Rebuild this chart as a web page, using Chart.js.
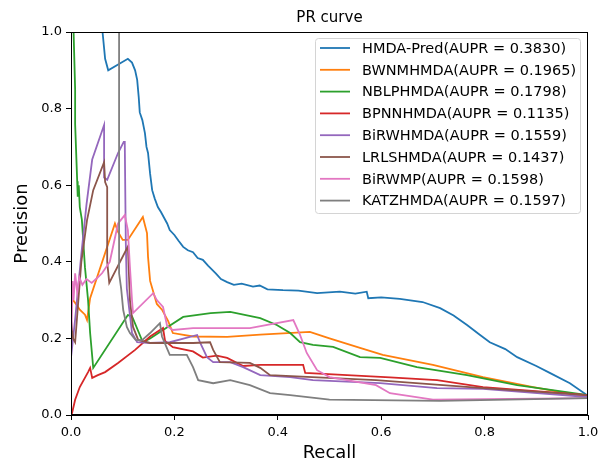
<!DOCTYPE html>
<html>
<head>
<meta charset="utf-8">
<script src="https://cdn.jsdelivr.net/npm/chart.js@4.4.0/dist/chart.umd.min.js"></script>
<style>
  html, body { margin: 0; padding: 0; background: #fff; }
  #wrap { width: 610px; height: 466px; }
</style>
</head>
<body>
<div id="wrap"><canvas id="prChart" width="610" height="466"></canvas></div>
<script>
// [recall, precision] points
const hmdaPred = [[0.061,1.0],[0.066,0.93],[0.072,0.90],[0.110,0.93],[0.118,0.92],[0.124,0.90],[0.128,0.875],[0.131,0.83],[0.133,0.79],[0.138,0.77],[0.143,0.736],[0.146,0.70],[0.149,0.684],[0.153,0.63],[0.157,0.587],[0.162,0.565],[0.168,0.543],[0.174,0.53],[0.180,0.515],[0.186,0.50],[0.191,0.483],[0.200,0.47],[0.208,0.455],[0.217,0.439],[0.226,0.43],[0.236,0.425],[0.245,0.41],[0.255,0.405],[0.265,0.39],[0.280,0.37],[0.29,0.355],[0.302,0.347],[0.315,0.34],[0.33,0.343],[0.352,0.335],[0.365,0.338],[0.38,0.328],[0.41,0.326],[0.44,0.325],[0.476,0.318],[0.52,0.322],[0.55,0.317],[0.572,0.322],[0.575,0.305],[0.60,0.307],[0.636,0.303],[0.68,0.295],[0.714,0.279],[0.74,0.26],[0.766,0.235],[0.79,0.21],[0.81,0.19],[0.84,0.172],[0.863,0.151],[0.90,0.128],[0.926,0.11],[0.965,0.083],[1.0,0.05]];
const bwnmhmda = [[0.0,0.33],[0.004,0.30],[0.012,0.285],[0.017,0.275],[0.027,0.262],[0.031,0.248],[0.037,0.305],[0.085,0.50],[0.091,0.478],[0.10,0.457],[0.110,0.457],[0.139,0.517],[0.147,0.475],[0.149,0.413],[0.153,0.35],[0.166,0.29],[0.176,0.275],[0.188,0.245],[0.197,0.214],[0.236,0.205],[0.302,0.204],[0.366,0.21],[0.41,0.213],[0.462,0.217],[0.50,0.20],[0.559,0.175],[0.603,0.157],[0.70,0.131],[0.797,0.099],[0.894,0.073],[1.0,0.047]];
const nblphmda = [[0.005,1.0],[0.008,0.85],[0.008,0.76],[0.012,0.61],[0.013,0.57],[0.015,0.6],[0.017,0.543],[0.021,0.51],[0.027,0.386],[0.033,0.30],[0.037,0.214],[0.043,0.123],[0.110,0.261],[0.118,0.258],[0.139,0.19],[0.153,0.20],[0.178,0.222],[0.217,0.256],[0.270,0.266],[0.308,0.269],[0.366,0.253],[0.398,0.235],[0.424,0.214],[0.443,0.19],[0.468,0.183],[0.507,0.178],[0.559,0.151],[0.598,0.149],[0.669,0.125],[0.766,0.104],[0.863,0.078],[1.0,0.052]];
const bpnnhmda = [[0.0,0.0],[0.002,0.005],[0.008,0.04],[0.017,0.073],[0.033,0.112],[0.037,0.123],[0.041,0.097],[0.052,0.104],[0.066,0.112],[0.091,0.136],[0.124,0.17],[0.153,0.205],[0.178,0.227],[0.182,0.193],[0.197,0.177],[0.236,0.166],[0.255,0.15],[0.282,0.155],[0.302,0.149],[0.333,0.128],[0.366,0.131],[0.41,0.131],[0.449,0.131],[0.453,0.11],[0.534,0.104],[0.617,0.098],[0.708,0.091],[0.797,0.073],[1.0,0.052]];
const birwhmda = [[0.0,0.15],[0.008,0.25],[0.02,0.42],[0.03,0.55],[0.041,0.667],[0.064,0.757],[0.064,0.62],[0.07,0.614],[0.091,0.684],[0.102,0.713],[0.104,0.713],[0.106,0.45],[0.108,0.33],[0.118,0.214],[0.128,0.19],[0.153,0.188],[0.191,0.19],[0.244,0.209],[0.25,0.188],[0.263,0.151],[0.275,0.138],[0.308,0.138],[0.333,0.125],[0.366,0.104],[0.424,0.099],[0.468,0.091],[0.598,0.083],[0.708,0.07],[0.797,0.068],[1.0,0.047]];
const lrlshmda = [[0.0,0.25],[0.004,0.2],[0.008,0.19],[0.02,0.4],[0.031,0.509],[0.043,0.587],[0.064,0.66],[0.066,0.608],[0.07,0.595],[0.07,0.40],[0.074,0.345],[0.110,0.44],[0.114,0.30],[0.12,0.23],[0.13,0.196],[0.153,0.188],[0.236,0.188],[0.269,0.19],[0.275,0.17],[0.288,0.138],[0.346,0.136],[0.366,0.123],[0.385,0.104],[0.59,0.091],[0.797,0.07],[1.0,0.052]];
const birwmp = [[0.001,0.22],[0.003,0.35],[0.005,0.30],[0.008,0.37],[0.012,0.32],[0.016,0.36],[0.022,0.34],[0.03,0.355],[0.04,0.345],[0.05,0.357],[0.06,0.37],[0.075,0.40],[0.091,0.50],[0.104,0.522],[0.11,0.483],[0.114,0.386],[0.118,0.30],[0.12,0.266],[0.159,0.318],[0.166,0.30],[0.178,0.282],[0.186,0.232],[0.197,0.222],[0.236,0.227],[0.346,0.227],[0.43,0.248],[0.443,0.209],[0.456,0.162],[0.476,0.117],[0.50,0.099],[0.59,0.078],[0.617,0.057],[0.70,0.04],[1.0,0.044]];
const katzhmda = [[0.093,1.0],[0.093,0.37],[0.097,0.33],[0.101,0.274],[0.108,0.23],[0.114,0.214],[0.125,0.196],[0.137,0.195],[0.153,0.214],[0.172,0.24],[0.176,0.205],[0.191,0.157],[0.224,0.157],[0.236,0.125],[0.246,0.091],[0.275,0.083],[0.308,0.091],[0.346,0.078],[0.385,0.057],[0.424,0.052],[0.50,0.04],[0.714,0.037],[1.0,0.044]];

const seriesNames = ["HMDA-Pred(AUPR = 0.3830)", "BWNMHMDA(AUPR = 0.1965)", "NBLPHMDA(AUPR = 0.1798)", "BPNNHMDA(AUPR = 0.1135)", "BiRWHMDA(AUPR = 0.1559)", "LRLSHMDA(AUPR = 0.1437)", "BiRWMP(AUPR = 0.1598)", "KATZHMDA(AUPR = 0.1597)"];
const seriesData = [hmdaPred, bwnmhmda, nblphmda, bpnnhmda, birwhmda, lrlshmda, birwmp, katzhmda];
const colors = ["#1f77b4", "#ff7f0e", "#2ca02c", "#d62728", "#9467bd", "#8c564b", "#e377c2", "#7f7f7f"];
const axisTicks = [0, 0.2, 0.4, 0.6, 0.8, 1.0];

const FONT = "'DejaVu Sans', sans-serif";

// frame, title and in-plot legend, drawn the matplotlib way
const framePlugin = {
  id: "frame",
  afterDraw(chart) {
    const { ctx, chartArea: a } = chart;
    ctx.save();
    ctx.strokeStyle = "#000";
    ctx.lineWidth = 1;
    ctx.strokeRect(a.left + 0.5, a.top + 0.5, a.right - a.left - 1, a.bottom - a.top - 1);

    ctx.fillStyle = "#000";
    ctx.font = "15px " + FONT;
    ctx.textAlign = "center";
    ctx.textBaseline = "alphabetic";
    ctx.fillText("PR curve", (a.left + a.right) / 2, 22);

    // legend box
    const bx = 315, by = 38, bw = 265, bh = 175;
    ctx.globalAlpha = 0.8;
    ctx.fillStyle = "#fff";
    ctx.beginPath();
    ctx.roundRect(bx + 0.5, by + 0.5, bw, bh, 3);
    ctx.fill();
    ctx.globalAlpha = 1;
    ctx.strokeStyle = "#d4d4d4";
    ctx.stroke();
    ctx.font = "14.5px " + FONT;
    ctx.textAlign = "left";
    ctx.textBaseline = "middle";
    seriesNames.forEach((name, i) => {
      const y = 48 + i * 21.8;
      ctx.strokeStyle = colors[i];
      ctx.lineWidth = 1.8;
      ctx.beginPath();
      ctx.moveTo(320, y);
      ctx.lineTo(350, y);
      ctx.stroke();
      ctx.fillStyle = "#000";
      ctx.fillText(name, 362, y + 1);
    });
    ctx.restore();
  }
};

const datasets = seriesData.map((pts, i) => ({
  label: seriesNames[i],
  data: pts.map(p => ({ x: p[0], y: p[1] })),
  borderColor: colors[i],
  borderWidth: 1.8,
  pointRadius: 0,
  fill: false,
  tension: 0,
  order: seriesData.length - i,
}));

const axisCommon = {
  type: "linear",
  min: 0,
  max: 1,
  grid: { display: true, drawOnChartArea: false, drawTicks: true, tickLength: 5, color: "#000" },
  border: { display: true, color: "#000", width: 1 },
  afterBuildTicks: (scale) => { scale.ticks = axisTicks.map(v => ({ value: v })); },
};

const tickOpts = (pad) => ({
  color: "#000",
  font: { family: FONT, size: 13 },
  padding: pad,
  callback: (v) => v.toFixed(1),
  maxRotation: 0,
});

new Chart(document.getElementById("prChart"), {
  type: "line",
  data: { datasets },
  options: {
    responsive: false,
    animation: false,
    layout: { padding: { left: 0, top: 32, right: 22, bottom: 0 } },
    plugins: { legend: { display: false }, title: { display: false }, tooltip: { enabled: false } },
    scales: {
      x: {
        ...axisCommon,
        position: "bottom",
        ticks: tickOpts(5),
        afterFit: (scale) => { scale.height = 51; },
        title: { display: true, text: "Recall", color: "#000", font: { family: FONT, size: 18 }, padding: { top: 0, bottom: 2 } },
      },
      y: {
        ...axisCommon,
        position: "left",
        ticks: tickOpts(4),
        afterFit: (scale) => { scale.width = 71; },
        title: { display: true, text: "Precision", color: "#000", font: { family: FONT, size: 18 }, padding: { top: 12, bottom: 0 } },
      },
    },
  },
  plugins: [framePlugin],
});
</script>
</body>
</html>
